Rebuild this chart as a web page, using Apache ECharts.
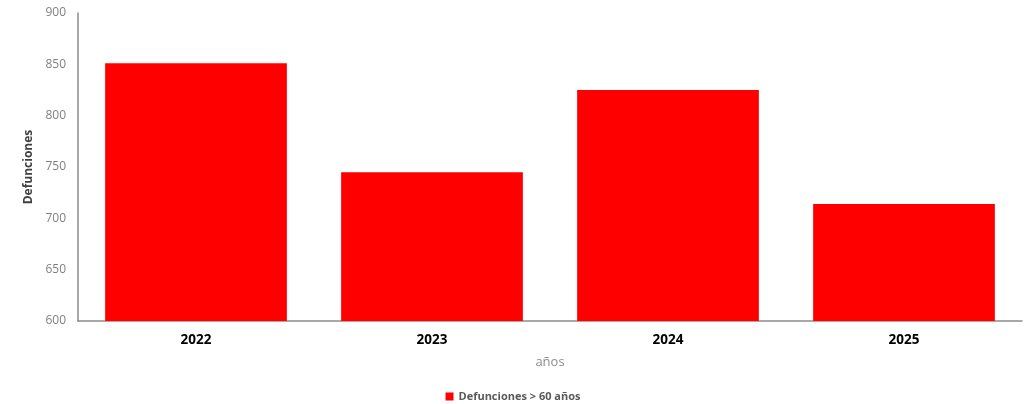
<!DOCTYPE html>
<html><head><meta charset="utf-8">
<script src="https://cdn.jsdelivr.net/npm/echarts@6/dist/echarts.min.js"></script>
<style>html,body{margin:0;padding:0;background:#fff}#c{width:1026px;height:404px}</style>
</head><body><div id="c"></div>
<script>
const categories = ['2022', '2023', '2024', '2025'];
const values = [851, 745, 825, 714];
const seriesName = 'Defunciones > 60 años';
const yTicks = [600, 650, 700, 750, 800, 850, 900];

const chart = echarts.init(document.getElementById('c'));
chart.setOption({
  animation: false,
  backgroundColor: '#fff',
  textStyle: { fontFamily: 'Open Sans, Noto Sans, sans-serif' },
  grid: { left: 78, right: 4, top: 13, bottom: 83 },
  legend: {
    bottom: -3, left: 'center', itemWidth: 8, itemHeight: 8, icon: 'rect', itemGap: 4,
    textStyle: { fontSize: 11, fontWeight: 'bold', color: '#595959', fontFamily: 'Open Sans, sans-serif' },
    data: [seriesName]
  },
  xAxis: {
    type: 'category', data: categories,
    name: 'años', nameLocation: 'middle', nameGap: 35,
    nameTextStyle: { color: '#8c8c8c', fontSize: 13 },
    axisLine: { lineStyle: { color: '#8c8c8c', width: 1.5 } },
    axisTick: { show: false },
    axisLabel: { color: '#000', fontWeight: 'bold', fontSize: 13.5, margin: 12 }
  },
  yAxis: {
    type: 'value', min: yTicks[0], max: yTicks[yTicks.length - 1], interval: 50,
    name: 'Defunciones', nameLocation: 'middle', nameGap: 42,
    nameTextStyle: { color: '#404040', fontSize: 12, fontWeight: 'bold', fontFamily: 'Open Sans, sans-serif' },
    axisLine: { show: true, lineStyle: { color: '#8c8c8c', width: 1.5 } },
    axisTick: { show: false },
    splitLine: { show: false },
    axisLabel: { color: '#7f7f7f', fontSize: 12, margin: 12 }
  },
  series: [{
    name: seriesName, type: 'bar', data: values,
    barCategoryGap: '23%',
    itemStyle: { color: '#ff0000' }
  }]
});
</script></body></html>
